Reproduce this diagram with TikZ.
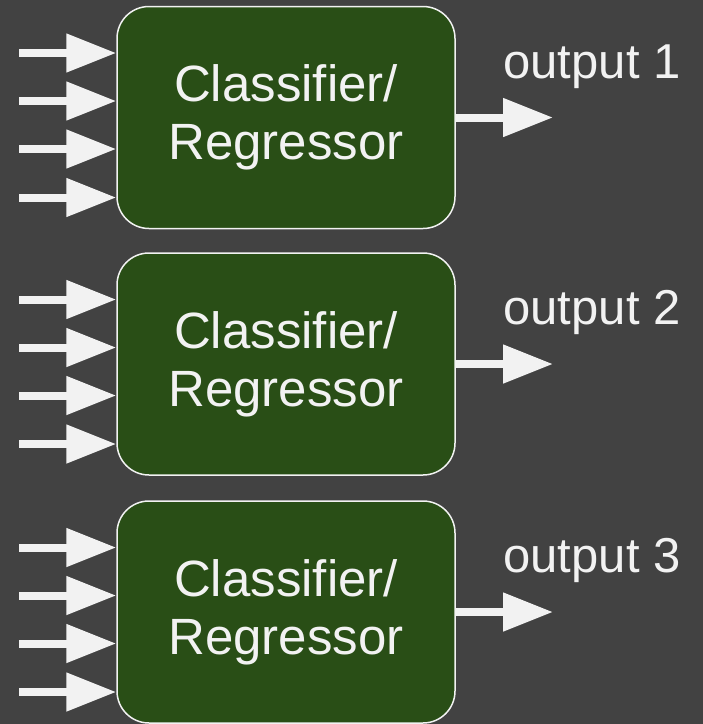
\documentclass[tikz,border=0pt]{standalone}
\usepackage{fontspec}
\setmainfont{Liberation Sans}
\usetikzlibrary{arrows.meta}
\definecolor{bg}{RGB}{66,66,66}
\definecolor{boxgreen}{RGB}{41,78,22}
\definecolor{arrowwhite}{RGB}{242,242,242}
\begin{document}
\begin{tikzpicture}[x=1pt,y=-1pt,
 clbox/.style={draw=arrowwhite, line width=1.5pt, fill=boxgreen, rounded corners=32pt,
   minimum width=338pt, minimum height=222pt, text=arrowwhite, align=center,
   font=\fontsize{51}{58}\selectfont, inner sep=0pt},
 bigarrow/.style={draw=arrowwhite, line width=8pt, -{Triangle[length=50pt,width=37pt]}},
 outlabel/.style={text=arrowwhite, font=\fontsize{49}{58}\selectfont, anchor=base, inner sep=0pt}]
\fill[bg] (0,0) rectangle (703,724);
\useasboundingbox (0,0) rectangle (703,724);
\foreach \k/\cy in {1/117.5, 2/364, 3/612}{
  \node[clbox] (b\k) at (286,\cy) {Classifier/\\Regressor};
  \foreach \j/\dy in {1/-64.5, 2/-16.5, 3/31.5, 4/80}{
    \coordinate (i\k\j) at (19,\cy+\dy);
    \draw[bigarrow] (i\k\j) -- (i\k\j -| b\k.west);
  }
  \coordinate (o\k) at (553,\cy);
  \draw[bigarrow] (b\k.east) -- (o\k);
  \node[outlabel] (l\k) at (592,\cy-39.5) {output \k};
}
\end{tikzpicture}
\end{document}
